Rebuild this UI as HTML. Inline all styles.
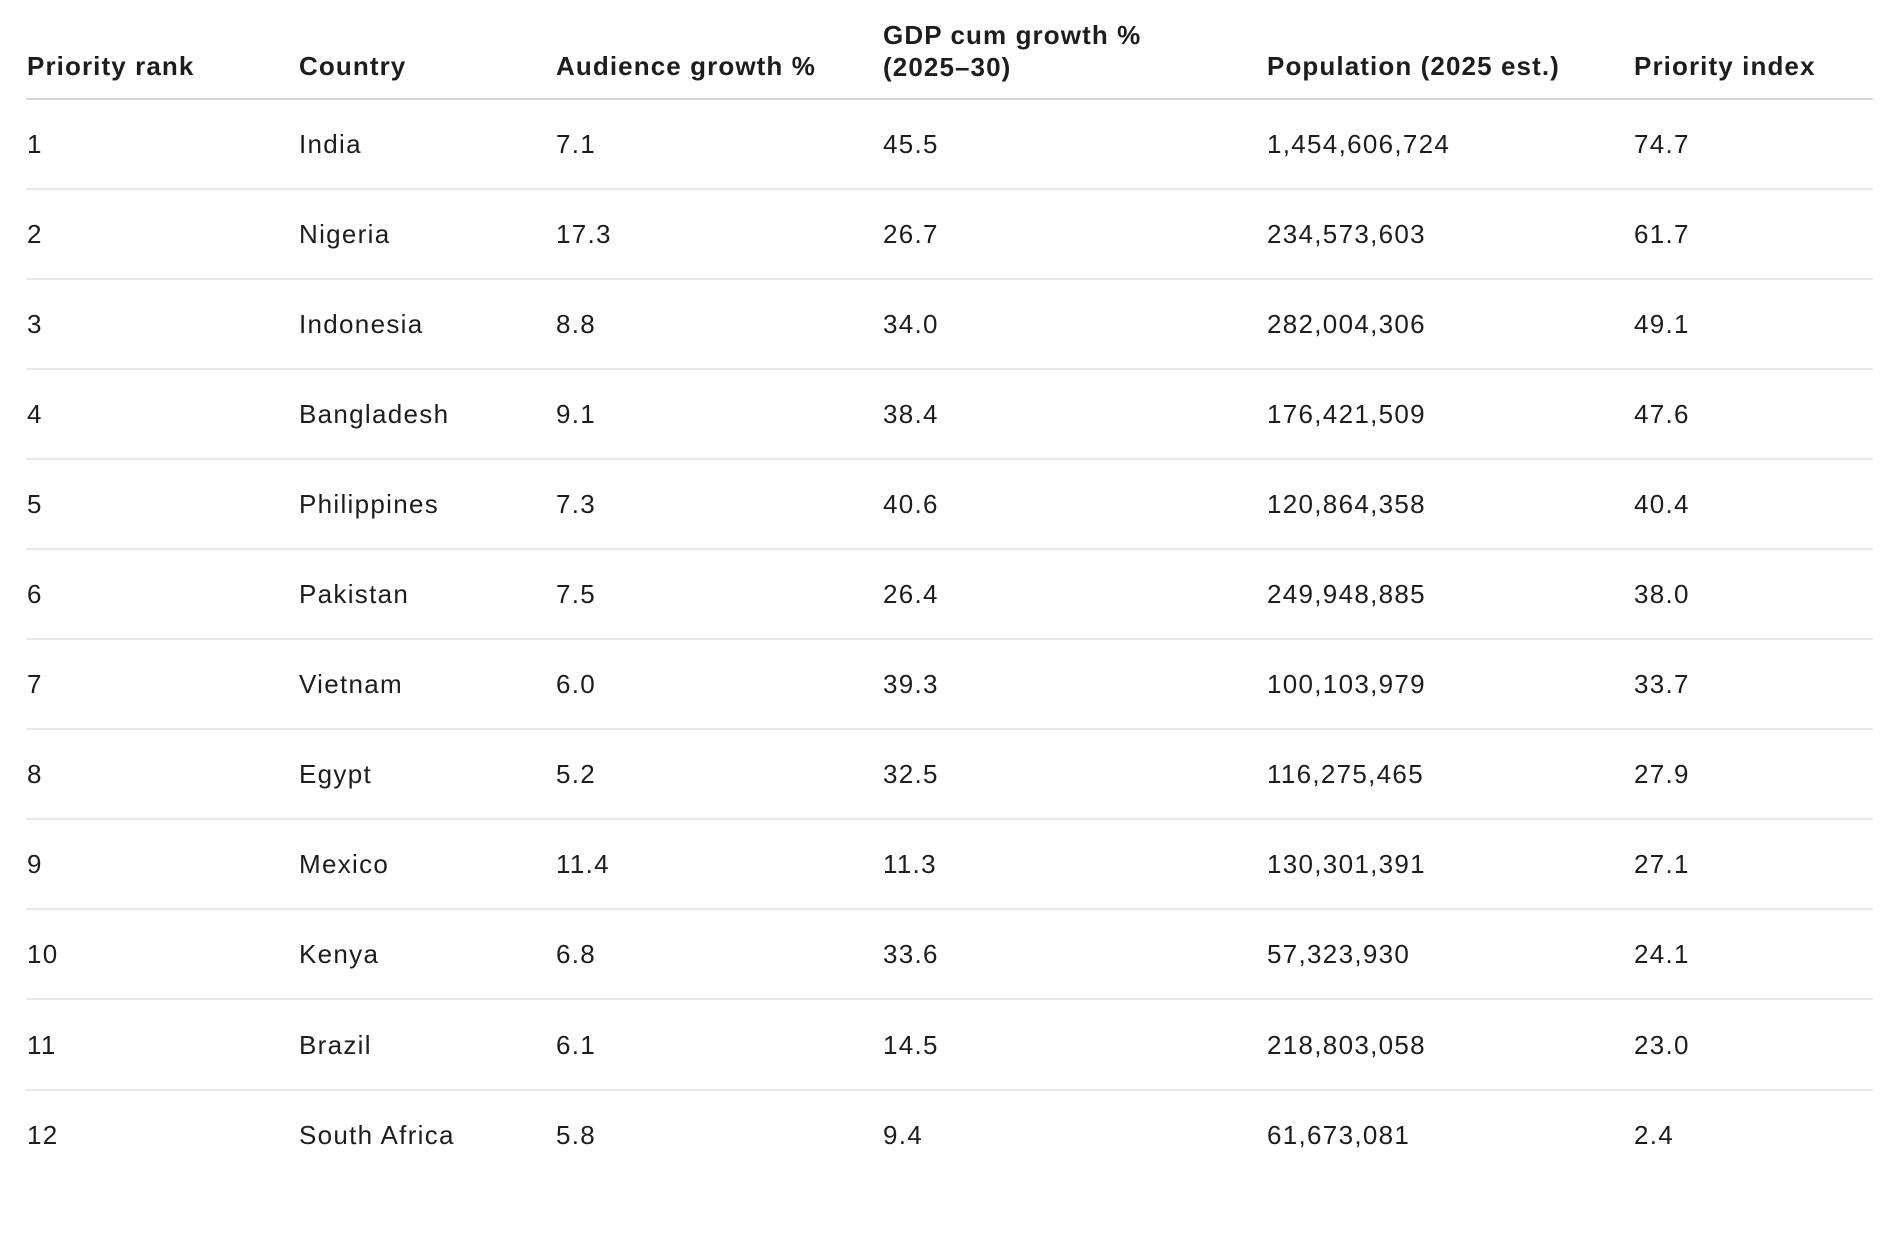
<!DOCTYPE html>
<html><head><meta charset="utf-8"><style>
body{margin:0;width:1886px;height:1234px;background:#fff;font-family:"Liberation Sans",sans-serif;color:#1d1d1f;position:relative;overflow:hidden}
.c{position:absolute;font-size:26px;white-space:nowrap;line-height:30px;letter-spacing:1.3px}
.h{font-weight:bold;font-size:26px;letter-spacing:1.1px}
.ln{position:absolute;left:26px;width:1847px;height:2px;background:#e8e8e8}
</style></head><body>
<div id="t"></div>
<script>
const ranks=[1,2,3,4,5,6,7,8,9,10,11,12];
const countries=["India","Nigeria","Indonesia","Bangladesh","Philippines","Pakistan","Vietnam","Egypt","Mexico","Kenya","Brazil","South Africa"];
const audience=["7.1","17.3","8.8","9.1","7.3","7.5","6.0","5.2","11.4","6.8","6.1","5.8"];
const gdp=["45.5","26.7","34.0","38.4","40.6","26.4","39.3","32.5","11.3","33.6","14.5","9.4"];
const population=["1,454,606,724","234,573,603","282,004,306","176,421,509","120,864,358","249,948,885","100,103,979","116,275,465","130,301,391","57,323,930","218,803,058","61,673,081"];
const index=["74.7","61.7","49.1","47.6","40.4","38.0","33.7","27.9","27.1","24.1","23.0","2.4"];
const headers=["Priority rank","Country","Audience growth %","GDP cum growth %<br>(2025–30)","Population (2025 est.)","Priority index"];
const xs=[27,299,556,883,1267,1634];
const t=document.getElementById('t');
headers.forEach((h,i)=>{
  const d=document.createElement('div');
  d.className='c h';
  d.style.left=xs[i]+'px';
  d.style.top=(i==3?19:51)+'px';
  d.style.lineHeight=i==3?'32px':'30px';
  d.innerHTML=h;
  
  
  t.appendChild(d);
});
const hl=document.createElement('div');
hl.className='ln';hl.style.top='98px';hl.style.background='#d6d6d6';


t.appendChild(hl);
const cols=[ranks,countries,audience,gdp,population,index];
ranks.forEach((r,j)=>{
  const y=144+j*90.05;
  cols.forEach((col,i)=>{
    const d=document.createElement('div');
    d.className='c';
    d.style.left=xs[i]+'px';
    d.style.top=(y-15)+'px';
    d.textContent=col[j];
    
    
    t.appendChild(d);
  });
  if(j<ranks.length-1){
    const l=document.createElement('div');
    l.className='ln';l.style.top=(y+44)+'px';
    
    
    t.appendChild(l);
  }
});
</script>
</body></html>
